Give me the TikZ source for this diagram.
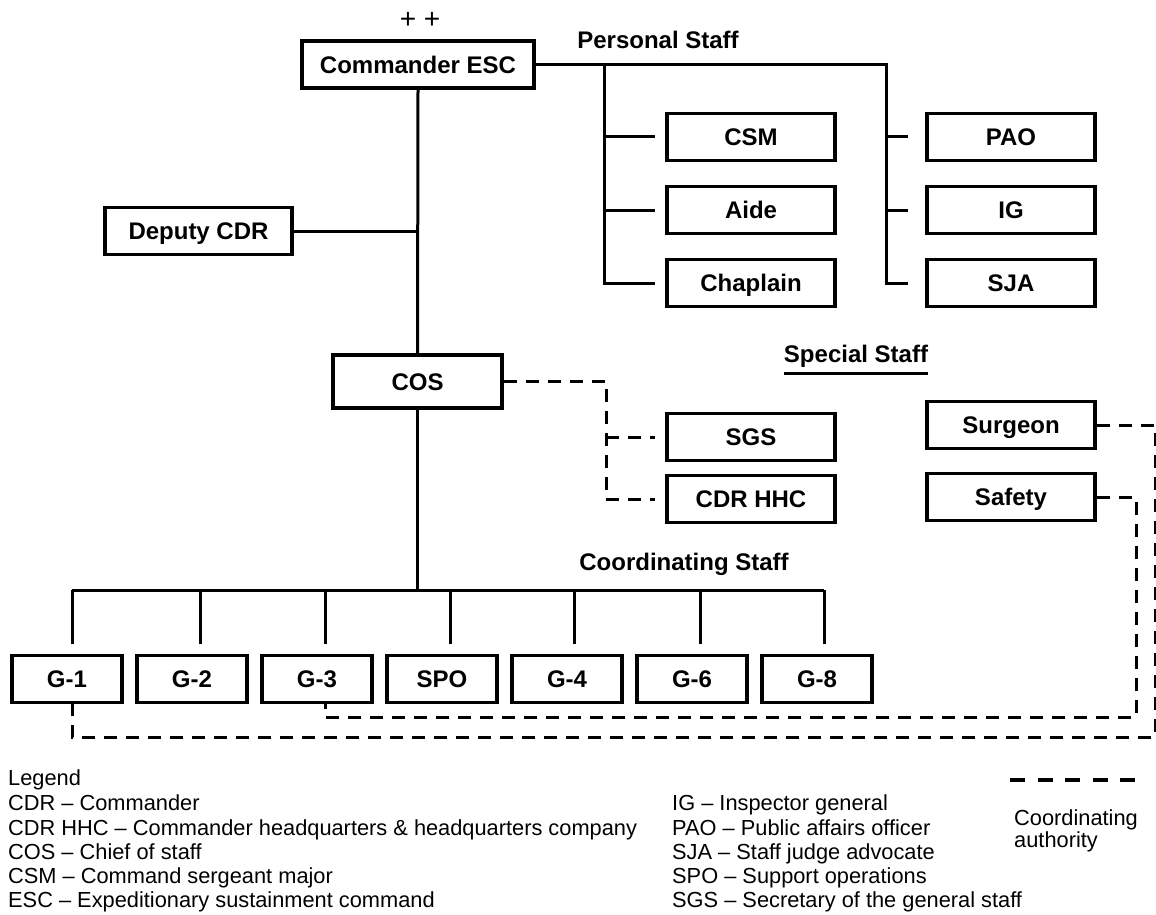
\documentclass[tikz,border=0pt]{standalone}
\usepackage{fontspec}
\setmainfont{Liberation Sans}
\begin{document}
\begin{tikzpicture}[x=1pt,y=-1pt,
  box/.style={draw,line width=3.3pt,inner sep=0pt,minimum width=168pt,minimum height=47pt,
    text height=17.2pt,text depth=0pt,
    font=\fontsize{24}{28}\selectfont\bfseries},
  gbox/.style={box,minimum width=110pt},
  head/.style={inner sep=0pt,anchor=base,font=\fontsize{24}{28}\selectfont\bfseries},
  leg/.style={inner sep=0pt,anchor=base west,font=\fontsize{21.8}{26}\selectfont},
  conn/.style={line width=3pt},
  coord/.style={line width=3pt,dash pattern=on 13pt off 9pt},
  legdash/.style={line width=3.2pt,dash pattern=on 15pt off 12.5pt}]
\useasboundingbox (0,0) rectangle (1156,915);

% command group
\node (plus) [inner sep=0pt,anchor=base,font=\fontsize{28}{32}\selectfont] at (420,29) {+ +};
\node (cmd) [box,minimum width=232pt] at (418,64.5) {Commander ESC};
\node (dep) [box,minimum width=187pt] at (198.5,231) {Deputy CDR};
\node (cos) [box,minimum width=169pt,minimum height=53pt] at (417.5,381.5) {COS};

% personal staff
\node (pst) [head] at (658,49) {Personal Staff};
\node (csm) [box] at (751,137) {CSM};
\node (aide) [box] at (751,210) {Aide};
\node (chap) [box] at (751,283) {Chaplain};
\node (pao) [box] at (1011,137) {PAO};
\node (ig) [box] at (1011,210) {IG};
\node (sja) [box] at (1011,283) {SJA};

% special staff
\node (sst) [head] at (856,362) {Special Staff};
\node (sgs) [box] at (751,437) {SGS};
\node (hhc) [box] at (751,499) {CDR HHC};
\node (surg) [box] at (1011,425) {Surgeon};
\node (safe) [box] at (1011,497) {Safety};

% coordinating staff
\node (cst) [head] at (684,570) {Coordinating Staff};
\node (g1) [gbox] at (67,679) {G-1};
\node (g2) [gbox] at (192,679) {G-2};
\node (g3) [gbox] at (317,679) {G-3};
\node (spo) [gbox] at (442,679) {SPO};
\node (g4) [gbox] at (567,679) {G-4};
\node (g6) [gbox] at (692,679) {G-6};
\node (g8) [gbox] at (817,679) {G-8};

% bus lines
\coordinate (lbus) at (604,0);
\coordinate (rbus) at (886,0);
\coordinate (sbus) at (606,0);
\coordinate (gbus) at (0,590);
\coordinate (far1) at (1155,737);
\coordinate (far2) at (1136,717);

% solid command lines
\draw[conn] (cmd.east) -- (cmd.east -| rbus) -- (sja.west -| rbus) -- ([xshift=-17pt]sja.west);
\draw[conn] (pao.west -| rbus) -- ([xshift=-17pt]pao.west);
\draw[conn] (ig.west -| rbus) -- ([xshift=-17pt]ig.west);
\draw[conn] (cmd.east -| lbus) -- (chap.west -| lbus) -- ([xshift=-10pt]chap.west);
\draw[conn] (csm.west -| lbus) -- ([xshift=-10pt]csm.west);
\draw[conn] (aide.west -| lbus) -- ([xshift=-10pt]aide.west);
\draw[conn] (cmd.south) -- (cos.north);
\draw[conn] (dep.east) -- (dep.east -| cmd.south);
\draw[conn] (cos.south) -- (cos.south |- gbus);
\draw[conn] ([xshift=5pt]g1.north |- gbus) -- ([xshift=7pt]g8.north |- gbus);
\foreach \g/\dx in {g1/5,g2/8,g3/8,spo/8,g4/7,g6/8,g8/7}
  \draw[conn] ([xshift=\dx pt]\g.north |- gbus) -- ([xshift=\dx pt,yshift=10pt]\g.north);

% underline of the special staff heading
\draw[line width=3pt] ([yshift=-11pt]sst.base west) -- ([yshift=-11pt]sst.base east);

% coordinating authority
\draw[coord] (cos.east) -- (cos.east -| sbus) -- (hhc.west -| sbus) -- ([xshift=-10pt]hhc.west);
\draw[coord] (sgs.west -| sbus) -- ([xshift=-10pt]sgs.west);
\draw[coord] (surg.east) -| (far1) -| ([xshift=5pt]g1.south);
\draw[coord] (safe.east) -| (far2) -| ([xshift=8pt]g3.south);

% legend
\node (lg0) [leg] at (8,785) {Legend};
\node (lg1) [leg] at (8,810) {CDR – Commander};
\node (lg2) [leg] at (8,835) {CDR HHC – Commander headquarters \& headquarters company};
\node (lg3) [leg] at (8,859) {COS – Chief of staff};
\node (lg4) [leg] at (8,883) {CSM – Command sergeant major};
\node (lg5) [leg] at (8,907) {ESC – Expeditionary sustainment command};
\node (lg6) [leg] at (672,810) {IG – Inspector general};
\node (lg7) [leg] at (672,835) {PAO – Public affairs officer};
\node (lg8) [leg] at (672,859) {SJA – Staff judge advocate};
\node (lg9) [leg] at (672,883) {SPO – Support operations};
\node (lg10) [leg] at (672,907) {SGS – Secretary of the general staff};
\coordinate (ls) at (1010,780);
\coordinate (le) at (1135,780);
\draw[legdash] (ls) -- (le);
\node (lca) [leg] at (1014,825) {Coordinating};
\node (lcb) [leg] at (1014,847) {authority};
\end{tikzpicture}
\end{document}
